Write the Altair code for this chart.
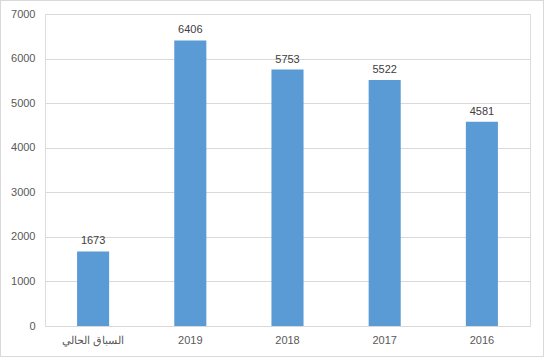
import altair as alt
import pandas as pd

categories = ["السباق الحالي", "2019", "2018", "2017", "2016"]
values = [1673, 6406, 5753, 5522, 4581]

df = pd.DataFrame({"cat": categories, "val": values})

FONT = "Liberation Sans"
TXT = "#595959"

base = alt.Chart(df)

bars = base.mark_bar(color="#5b9bd5").encode(
    x=alt.X("cat:N", sort=categories, title=None,
            scale=alt.Scale(paddingInner=0.67, paddingOuter=0.33),
            axis=alt.Axis(labelAngle=0, labelFont=FONT, labelFontSize=11, labelColor=TXT,
                          domainColor="#d9d9d9", ticks=False, labelPadding=8, grid=False)),
    y=alt.Y("val:Q", title=None,
            scale=alt.Scale(domain=[0, 7000]),
            axis=alt.Axis(values=list(range(0, 7001, 1000)), format="d", labelFont=FONT,
                          labelFontSize=11, labelColor=TXT, domain=False, ticks=False,
                          labelPadding=10, gridColor="#d9d9d9")),
)

labels = base.mark_text(dy=-10, font=FONT, fontSize=11, color="#404040").encode(
    x=alt.X("cat:N", sort=categories),
    y="val:Q",
    text="val:Q",
)

border = alt.Chart(df).mark_rect(fill=None, stroke="#d9d9d9", strokeWidth=1).encode(
    x=alt.value(-44.5), x2=alt.value(498.5), y=alt.value(-13.5), y2=alt.value(342.5)
)

chart = alt.layer(bars, labels, border).properties(
    width=485, height=312,
    padding={"left": 45, "top": 14, "right": 14, "bottom": 31},
    autosize="none",
).configure_view(stroke=None).configure(background="white")

chart.save("out.html", embed_options={"renderer": "svg", "actions": False})
